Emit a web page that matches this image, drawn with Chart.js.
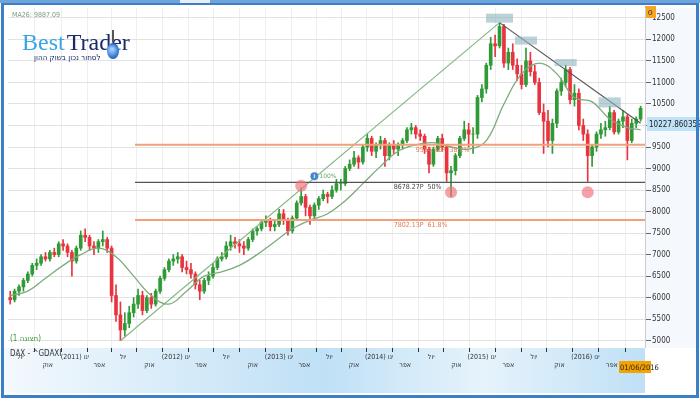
<!DOCTYPE html>
<html><head><meta charset="utf-8">
<script src="https://cdn.jsdelivr.net/npm/chart.js@4"></script>
<style>html,body{margin:0;padding:0;background:#fff}#w{width:700px;height:400px}</style>
</head><body><div id="w"><canvas id="c" width="700" height="400"></canvas></div>
<script>
const close=[5950,6150,6250,6400,6550,6750,6800,6950,6900,7050,7000,7250,7200,7050,6850,7150,7450,7400,7200,7150,7300,7350,7150,6050,5600,5250,5400,5650,5850,6050,5700,6000,5850,6150,6450,6650,6850,6900,6950,6700,6650,6550,6300,6150,6400,6500,6700,6900,6950,7200,7300,7250,7200,7150,7350,7550,7600,7750,7800,7650,7700,7950,7800,7550,7850,8200,8350,8100,7900,8150,8300,8400,8350,8500,8650,8650,9000,9100,9250,9150,9500,9700,9400,9550,9650,9300,9550,9450,9550,9650,9900,9950,9800,9750,9450,9100,9450,9700,9500,8900,8950,9300,9700,9900,9800,9800,10650,10850,11400,11900,11850,12300,11450,11700,11400,11200,10950,11500,11250,11000,10300,10100,9650,10050,10800,11000,11300,10600,10750,10000,9800,9300,9500,9800,9900,9950,10300,9850,10100,10200,9650,10050,10150,10400];
const open=[6000,5950,6150,6250,6400,6550,6750,6800,6950,6900,7050,7000,7250,7200,7050,6850,7150,7450,7400,7200,7150,7300,7350,7150,6050,5600,5250,5400,5650,5850,6050,5700,6000,5850,6150,6450,6650,6850,6900,6950,6700,6650,6550,6300,6150,6400,6500,6700,6900,6950,7200,7300,7250,7200,7150,7350,7550,7600,7750,7800,7650,7700,7950,7800,7550,7850,8200,8350,8100,7900,8150,8300,8400,8350,8500,8650,8650,9000,9100,9250,9150,9500,9700,9400,9550,9650,9300,9550,9450,9550,9650,9900,9950,9800,9750,9450,9100,9450,9700,9500,8900,8950,9300,9700,9900,9800,9800,10650,10850,11400,11900,11850,12300,11450,11700,11400,11200,10950,11500,11250,11000,10300,10100,9650,10050,10800,11000,11300,10600,10750,10000,9800,9300,9500,9800,9900,9950,10300,9850,10100,10200,9650,10050,10150];
const high=[6150,6200,6300,6450,6600,6800,6900,7000,7050,7100,7150,7300,7350,7250,7100,7200,7550,7600,7450,7300,7350,7550,7400,7200,6300,5900,5650,5800,6000,6200,6150,6050,6100,6200,6500,6700,6900,7000,7050,7000,6850,6800,6600,6400,6450,6600,6800,6950,7050,7300,7450,7400,7350,7300,7400,7600,7650,7800,7900,7850,7800,8050,8050,7850,7900,8250,8550,8400,8150,8200,8350,8500,8450,8600,8750,8750,9050,9200,9400,9300,9550,9800,9750,9600,9750,9700,9600,9650,9600,9700,9950,10050,10000,9900,9800,9500,9500,9750,9800,9550,9050,9350,9750,10100,10050,9950,10700,10950,11450,12050,12100,12390,12350,11800,11900,11550,11400,11800,11700,11400,11100,10500,10350,10150,10850,11100,11400,11350,10950,10850,10150,9900,9550,9850,10050,10100,10450,10350,10150,10350,10250,10150,10200,10450];
const low=[5850,5900,6050,6150,6350,6500,6650,6750,6850,6850,6950,6950,7100,6950,6500,6800,7100,7300,7100,7000,7050,7200,7050,5900,5450,5000,5100,5300,5550,5750,5600,5650,5750,5800,6100,6400,6600,6750,6800,6600,6550,6450,6200,5950,6100,6300,6450,6650,6850,6900,7100,7150,7050,7000,7100,7300,7450,7550,7650,7550,7550,7650,7700,7450,7500,7800,8150,7900,7700,7850,8050,8250,8200,8300,8450,8500,8600,8950,9050,9000,9100,9400,9300,9250,9450,9050,9200,9350,9300,9450,9600,9800,9700,9650,9350,8900,9050,9400,9400,8700,8350,8850,9250,9650,9500,9350,9700,10550,10750,11300,11600,11800,11350,11300,11300,11050,10850,10900,11150,10950,10250,9350,9500,9350,9950,10700,10900,10500,10450,9900,9650,8700,9050,9400,9700,9750,9900,9800,9800,9950,9200,9600,9950,10100];
const maIdx=[0,4,8,12,16,20,24,28,32,36,40,44,48,52,56,60,64,68,72,76,80,84,88,92,96,100,104,108,112,116,120,124,128,132,136,140,143];
const maVal=[6050,6150,6450,6750,7000,7150,6950,6500,6050,5850,6150,6500,6600,6750,7000,7300,7600,7800,7950,8250,8650,9050,9400,9550,9600,9500,9450,9650,10500,11200,11450,11200,10650,10550,10150,9950,9900];
const yTicks=[5000,5500,6000,6500,7000,7500,8000,8500,9000,9500,10000,10500,11000,11500,12000,12500];
const xTickPos=[2.3,8.5,14.7,20.2,25.6,31.6,37.6,43.3,49,55,61,66.7,72.4,78,83.7,89.6,95.5,101.2,107,113,118.8,124.6,130.5,136.5];
const xTickRow1=["יול","","(2011) ינו","","יול","","(2012) ינו","","יול","","(2013) ינו","","יול","","(2014) ינו","","יול","","(2015) ינו","","יול","","(2016) ינו",""];
const xTickRow2=["","אוק","","אפר","","אוק","","אפר","","אוק","","אפר","","אוק","","אפר","","אוק","","אפר","","אוק","","אפר"];
const channel=[{x:25,y:5000},{x:111,y:12390}];
const downTrend=[{x:111,y:12390},{x:143,y:10050}];
const levels=[{v:9554.41,c:'#f2a07a',w:2,t:'9554.41P  38.2%',tx:92},{v:8678.27,c:'#555',w:1.3,t:'8678.27P  50%',tx:87},{v:7802.13,c:'#f2a07a',w:2,t:'7802.13P  61.8%',tx:87}];
const circles=[{x:66,y:8600},{x:100,y:8450},{x:131,y:8450}];
const peakBoxes=[{x:111,y:12390,w:27,h:9},{x:117,y:11880,w:22,h:8},{x:126,y:11380,w:22,h:7},{x:136,y:10420,w:22,h:10}];

const up='#2f9a36',dn='#e8343f';
const cols=close.map((c,i)=>c>=open[i]?up:dn);
const wick=close.map((c,i)=>({x:i,y:[low[i],high[i]]}));
const body=close.map((c,i)=>({x:i,y:[Math.min(open[i],c),Math.max(open[i],c)]}));
const ma=maIdx.map((x,i)=>({x,y:maVal[i]}));

const deco={id:'deco',
beforeDraw(ch){const g=ch.ctx;g.save();g.fillStyle='#fff';g.fillRect(0,0,700,400);
 const ca=ch.chartArea;
 g.fillStyle='#f5f9fd';g.fillRect(ca.right,8,700-ca.right,ca.bottom-8);
 const gr=g.createLinearGradient(0,0,ca.right,0);gr.addColorStop(0,'#f4f9fd');gr.addColorStop(0.5,'#bfe0f6');gr.addColorStop(0.75,'#e6f3fb');gr.addColorStop(1,'#bfe0f6');
 g.fillStyle=gr;g.fillRect(4,ca.bottom,ca.right-4,393-ca.bottom);
 g.restore();},
afterDatasetsDraw(ch){const g=ch.ctx,xs=ch.scales.x,ys=ch.scales.y,ca=ch.chartArea;g.save();
 const x0=xs.getPixelForValue(28.3);
 levels.forEach(l=>{const y=ys.getPixelForValue(l.v);g.strokeStyle=l.c;g.lineWidth=l.w;g.beginPath();g.moveTo(x0,y);g.lineTo(ca.right,y);g.stroke();
  g.fillStyle=l.c==='#555'?'#444':'#e07a55';g.font='7px "DejaVu Sans Condensed"';g.fillText(l.t,xs.getPixelForValue(l.tx),y+7);});
 peakBoxes.forEach(b=>{const x=xs.getPixelForValue(b.x),y=ys.getPixelForValue(b.y);g.fillStyle='rgba(140,180,190,0.6)';g.fillRect(x-b.w/2,y-b.h,b.w,b.h);});
 circles.forEach(c=>{g.fillStyle='rgba(240,110,120,0.65)';g.beginPath();g.arc(xs.getPixelForValue(c.x),ys.getPixelForValue(c.y),6,0,7);g.fill();});
 const bx=xs.getPixelForValue(69),by=ys.getPixelForValue(8820);g.fillStyle='#4a88cc';g.beginPath();g.arc(bx,by,4,0,7);g.fill();
 g.fillStyle='#fff';g.font='bold 6px sans-serif';g.textAlign='center';g.fillText('i',bx,by+2);
 g.fillStyle='#6aa66a';g.font='6px "DejaVu Sans"';g.textAlign='left';g.fillText('100%',bx+5,by+2);
 g.restore();},
afterDraw(ch){const g=ch.ctx,ca=ch.chartArea;g.save();
 g.fillStyle='#7aa07a';g.font='7px "DejaVu Sans Condensed"';g.fillText('MA26: 9887.09',12,17);
 g.font='24px "Liberation Serif"';g.fillStyle='#39a6e2';g.fillText('Best',22,50);const w=g.measureText('Best').width;
 g.fillStyle='#1b2b6a';g.fillText('Trader',24+w,50);
 g.font='8px "DejaVu Sans Condensed"';g.fillStyle='#1b2b6a';g.fillText('לסחור נכון בשוק ההון',34,60);
 const gr=g.createRadialGradient(112,49,1,112,51,8);gr.addColorStop(0,'#9fd3ff');gr.addColorStop(1,'#1b5fbf');g.fillStyle=gr;g.beginPath();g.ellipse(113,51,6,8,0,0,7);g.fill();
 g.fillStyle='#555';g.fillRect(112,30,2,12);
 g.font='8px "DejaVu Sans Condensed"';g.fillStyle='#3d9a3d';g.fillText('(1 תצוגה)',10,341);
 g.fillStyle='#333';g.fillText('DAX - ^GDAXI',10,356);
 g.fillStyle='#f5a623';g.fillRect(645,6,11,12);g.fillStyle='#333';g.font='8px sans-serif';g.fillText('0',648,15);
 g.fillStyle='#bfe2f7';g.fillRect(647,117,53,14);g.fillStyle='#222';g.font='8px "DejaVu Sans Condensed"';g.fillText('10227.860352',649,127);
 g.fillStyle='#f5a300';g.fillRect(619,361,32,12);g.fillStyle='#222';g.font='7.5px "DejaVu Sans Condensed"';g.fillText('01/06/2016',620,370);
 g.strokeStyle='#3b7fc8';g.lineWidth=3;g.strokeRect(2.5,3.5,695,393);
 g.fillStyle='#6fa3dc';g.fillRect(0,0,700,3);g.fillStyle='#e8eef5';g.fillRect(180,0,30,3);
 g.strokeStyle='#ccc';g.lineWidth=1;g.beginPath();g.moveTo(ca.right+0.5,8);g.lineTo(ca.right+0.5,ca.bottom);g.stroke();
 g.restore();}};

new Chart(document.getElementById('c'),{
data:{datasets:[
 {type:'bar',data:wick,backgroundColor:cols,barThickness:1,grouped:false,order:3},
 {type:'bar',data:body,backgroundColor:cols,barThickness:3,grouped:false,order:2},
 {type:'line',data:ma,borderColor:'#7cab7c',borderWidth:1.3,pointRadius:0,tension:0.4,order:1},
 {type:'line',data:channel,borderColor:'#86b886',borderWidth:1.2,pointRadius:0,order:1},
 {type:'line',data:downTrend,borderColor:'#555',borderWidth:1.2,pointRadius:0,order:1}
]},
options:{responsive:false,animation:false,events:[],
 layout:{padding:{left:8,top:8}},
 plugins:{legend:{display:false},tooltip:{enabled:false}},
 scales:{
  x:{type:'linear',min:-0.5,max:144,offset:false,
   afterBuildTicks(s){s.ticks=xTickPos.map(v=>({value:v}));},
   afterFit(s){s.height=52;},
   grid:{color:'#eeeeee',tickLength:4,tickColor:'#333'},border:{display:false},
   ticks:{autoSkip:false,maxRotation:0,font:{size:7,family:'DejaVu Sans Condensed'},color:'#333',padding:1,
    callback(v,i){return [xTickRow1[i]||'',xTickRow2[i]||''];}}},
  y:{position:'right',min:4830,max:12730,
   afterBuildTicks(s){s.ticks=yTicks.map(v=>({value:v}));},
   afterFit(s){s.width=55;},
   grid:{color:'#e2e2e2',tickLength:6,tickColor:'#666'},border:{display:false},
   ticks:{font:{size:8,family:'DejaVu Sans Condensed'},color:'#333',padding:1,callback:v=>String(v)}}
 }},
plugins:[deco]});
</script></body></html>
